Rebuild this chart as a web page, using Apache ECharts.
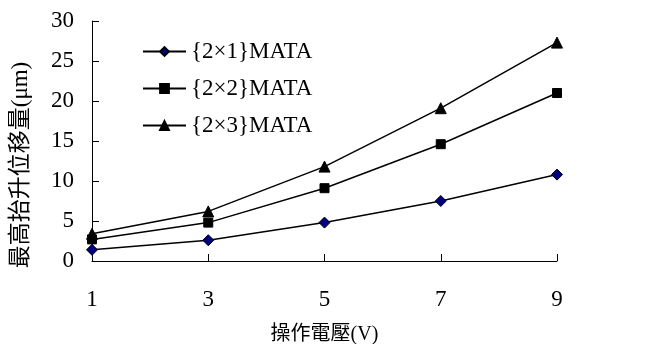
<!DOCTYPE html>
<html>
<head>
<meta charset="utf-8">
<script src="https://cdn.jsdelivr.net/npm/echarts@6/dist/echarts.min.js"></script>
<style>
html,body{margin:0;padding:0;background:#fff;}
#chart{width:659px;height:344px;}
</style>
</head>
<body>
<div id="chart"></div>
<script>
// Operating voltage (V)
const voltages = ['1', '3', '5', '7', '9'];
// Maximum lift displacement (μm) for each MATA array
const mata2x1 = [1.4, 2.6, 4.8, 7.5, 10.8];
const mata2x2 = [2.7, 4.8, 9.1, 14.6, 21.0];
const mata2x3 = [3.4, 6.2, 11.8, 19.1, 27.3];
const seriesNames = ['{2×1}MATA', '{2×2}MATA', '{2×3}MATA'];

const serifFont = '"Liberation Serif", "Times New Roman", "Noto Sans CJK TC", serif';

const chart = echarts.init(document.getElementById('chart'));

function lineSeries(name, data, symbol, size, fill) {
  return {
    name: name,
    type: 'line',
    data: data,
    symbol: symbol,
    symbolSize: size,
    showAllSymbol: true,
    lineStyle: { color: '#000', width: 1.5 },
    itemStyle: { color: fill, borderColor: '#000', borderWidth: 1 },
    emphasis: { disabled: true },
    animation: false
  };
}

chart.setOption({
  backgroundColor: '#fff',
  animation: false,
  grid: { left: 92, right: 102, top: 21, bottom: 83, containLabel: false, outerBoundsMode: 'none' },
  legend: {
    orient: 'vertical',
    left: 142,
    top: 40,
    padding: 0,
    itemWidth: 43,
    itemHeight: 11,
    itemGap: 14,
    textStyle: { fontFamily: serifFont, fontSize: 23, color: '#000', lineHeight: 23 },
    data: seriesNames
  },
  xAxis: {
    type: 'category',
    data: voltages,
    boundaryGap: false,
    name: '操作電壓(V)',
    nameLocation: 'middle',
    nameGap: 64,
    nameTextStyle: { fontFamily: serifFont, fontSize: 20, color: '#000' },
    axisLine: { lineStyle: { color: '#000', width: 1 } },
    axisTick: { inside: true, length: 7, alignWithLabel: true, lineStyle: { color: '#000' } },
    axisLabel: { fontFamily: serifFont, fontSize: 23, color: '#000', margin: 27 },
    splitLine: { show: false }
  },
  yAxis: {
    type: 'value',
    min: 0,
    max: 30,
    interval: 5,
    name: '最高抬升位移量(μm)',
    nameLocation: 'middle',
    nameGap: 60,
    nameRotate: 90,
    nameTextStyle: { fontFamily: serifFont, fontSize: 23, color: '#000', padding: [0, 48, 0, 0] },
    axisLine: { show: true, lineStyle: { color: '#000', width: 1 } },
    axisTick: { show: true, inside: true, length: 7, lineStyle: { color: '#000' } },
    axisLabel: { fontFamily: serifFont, fontSize: 23, color: '#000', margin: 18 },
    splitLine: { show: false }
  },
  series: [
    lineSeries(seriesNames[0], mata2x1, 'diamond', 11, '#000080'),
    lineSeries(seriesNames[1], mata2x2, 'rect', 9, '#000'),
    lineSeries(seriesNames[2], mata2x3, 'triangle', 11, '#000')
  ]
});
</script>
</body>
</html>
